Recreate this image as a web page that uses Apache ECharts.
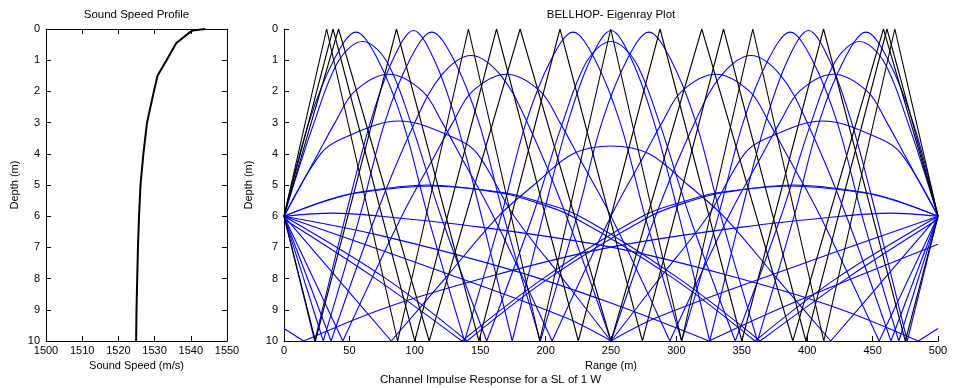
<!DOCTYPE html>
<html><head><meta charset="utf-8">
<script src="https://cdn.jsdelivr.net/npm/echarts/dist/echarts.min.js"></script>
<style>html,body{margin:0;padding:0;background:#fff}#c{width:953px;height:388px}</style>
</head><body><div id="c"></div>
<script>
// ---- Sound speed profile ----
const sspDepth = [0, 0.05, 0.1, 0.45, 1, 1.5, 2, 3, 4, 5, 6, 7, 8, 9, 10];
const sspSpeed = [1544, 1540.5, 1539.8, 1536, 1533.3, 1530.8, 1529.8, 1527.9, 1526.9, 1526.1, 1525.7, 1525.4, 1525.2, 1525.0, 1524.9];

// ---- Eigenrays: [range (m), depth (m)] vertices ----
// surface + bottom bouncing rays (black)
const blackRayA = [[0,6],[32.6,0],[86.9,10],[141,0],[195.5,10],[249.8,0],[304,10],[358.4,0],[412.7,10],[467,0],[500,6]];
const blackRayB = [[0,6],[37.5,0],[100,10],[162.5,0],[225,10],[287.5,0],[350,10],[412.5,0],[475,10],[500,6]];
const blackRayC = [[0,6],[24,10],[86,0],[149,10],[211,0],[274,10],[336,0],[399,10],[461,0],[500,6]];
const blackRayD = [[0,6],[41.7,0],[111,10],[180.5,0],[250,10],[319.4,0],[389,10],[458.3,0],[500,6]];

// refracted / bottom bouncing rays (blue)
const blueRayW1 = [[0,6],[19,3],[38,1],[55,0.1],[72,1],[91,3],[110,6],[138,10],[166,6],[185,3],[204,1],[221,0.1],[238,1],[257,3],[276,6],[304,10],[332,6],[351,3],[370,1],[387,0.1],[404,1],[423,3],[442,6],[470,10],[500,6]];
const blueRayW1m = [[0,6],[30,10],[58,6],[77,3],[96,1],[113,0.1],[130,1],[149,3],[168,6],[196,10],[224,6],[243,3],[262,1],[279,0.1],[296,1],[315,3],[334,6],[362,10],[390,6],[409,3],[428,1],[445,0.1],[462,1],[481,3],[500,6]];
const blueRayW2 = [[0,6],[23.5,10],[47,6],[66,3],[83,1],[99,0.05],[115,1],[132,3],[151,6],[174.5,10],[198,6],[217,3],[234,1],[250,0.05],[266,1],[283,3],[302,6],[325.5,10],[349,6],[368,3],[385,1],[401,0.05],[417,1],[434,3],[453,6],[476.5,10],[500,6]];
const blueRayV = [[0,6],[23,3],[42,1],[60,0.4],[78,1],[97,3],[120,6],[155,10],[190,6],[213,3],[232,1],[250,0.4],[268,1],[287,3],[310,6],[345,10],[380,6],[403,3],[422,1],[440,0.4],[458,1],[477,3],[500,6]];
const blueRayF = [[0,6],[36,10],[70,6],[100,3],[120,1.5],[143,0.85],[166,1.5],[186,3],[216,6],[250,10],[284,6],[314,3],[334,1.5],[357,0.85],[380,1.5],[400,3],[430,6],[464,10],[500,6]];
const blueRayP = [[0,6],[26,4],[39,3],[54,2],[80,1.45],[106,2],[121,3],[134,4],[160,6],[205,10],[250,6],[276,4],[289,3],[304,2],[330,1.45],[356,2],[371,3],[384,4],[410,6],[455,10],[500,6]];
const blueRayPm = [[0,6],[45,10],[90,6],[116,4],[129,3],[144,2],[170,1.45],[196,2],[211,3],[224,4],[250,6],[295,10],[340,6],[366,4],[379,3],[394,2],[420,1.45],[446,2],[461,3],[474,4],[500,6]];
const blueRayQ = [[0,6],[28,4],[45,3.5],[88,2.95],[131,3.5],[148,4],[176,6],[213,8],[250,10],[287,8],[324,6],[352,4],[369,3.5],[412,2.95],[455,3.5],[472,4],[500,6]];
const blueRayR = [[0,6],[41,8],[82,10],[123,8],[164,6],[191,5],[221,4],[250,3.75],[279,4],[309,5],[336,6],[377,8],[418,10],[459,8],[500,6]];
const blueRayS = [[0,6],[32,5.5],[55,5.25],[110,5.0],[165,5.25],[188,5.5],[220,6],[298,8],[360,10],[422,8],[500,6]];
const blueRayS2 = [[0,6],[33,5.5],[57,5.25],[113,5.03],[169,5.25],[192,5.5],[226,6],[302,8],[364,10],[430,8],[500,6.1]];
const blueRaySm = [[0,6],[78,8],[140,10],[202,8],[280,6],[312,5.5],[335,5.25],[390,5.0],[445,5.25],[468,5.5],[500,6]];
const blueRaySm2 = [[0,6.1],[70,8],[136,10],[198,8],[274,6],[308,5.5],[331,5.25],[387,5.03],[443,5.25],[467,5.5],[500,6]];
const blueRayH = [[0,6],[126,7.86],[215,9.25],[250,10],[285,9.25],[374,7.86],[500,6]];
const blueRayG = [[0,6],[37,5.9],[74,6],[150,6.35],[251,7.0],[340,7.9],[420,8.9],[485,10],[500,9.6]];
const blueRayGm = [[500,6],[463,5.9],[426,6],[350,6.35],[249,7.0],[160,7.9],[80,8.9],[15,10],[0,9.6]];
const blueRayK = [[0,6],[75,6.63],[177,7.76],[251,8.8],[325,10],[388,8.8],[500,6.9]];

const blackRays = [blackRayA, blackRayB, blackRayC, blackRayD];
const blueRays = [blueRayW1, blueRayW1m, blueRayW2, blueRayV, blueRayF, blueRayP, blueRayPm, blueRayQ, blueRayR, blueRayS, blueRayS2, blueRaySm, blueRaySm2, blueRayH, blueRayG, blueRayGm, blueRayK];

// ---- axis ticks ----
const speedTicks = [1500, 1550, 10];
const rangeTicks = [0, 500, 50];
const depthTicks = [0, 10, 1];

const FONT = 'Liberation Sans, Arial, Helvetica, sans-serif';
const chart = echarts.init(document.getElementById('c'), null, {renderer: 'canvas'});

function splitAtBottom(pts) {
  const segs = [];
  let cur = [pts[0]];
  for (let i = 1; i < pts.length; i++) {
    cur.push(pts[i]);
    if (pts[i][1] === 10 && i < pts.length - 1) { segs.push(cur); cur = [pts[i]]; }
  }
  segs.push(cur);
  return segs;
}

const series = [];
series.push({
  type: 'line', xAxisIndex: 0, yAxisIndex: 0, showSymbol: false, silent: true,
  data: sspDepth.map((d, i) => [sspSpeed[i], d]),
  lineStyle: {color: '#000', width: 2}
});
blueRays.forEach(r => splitAtBottom(r).forEach(seg => series.push({
  type: 'line', xAxisIndex: 1, yAxisIndex: 1, showSymbol: false, silent: true, smooth: 0.35,
  data: seg, lineStyle: {color: '#0000ff', width: 1.1}
})));
blackRays.forEach(r => series.push({
  type: 'line', xAxisIndex: 1, yAxisIndex: 1, showSymbol: false, silent: true,
  data: r, lineStyle: {color: '#000', width: 1.1}
}));

const lbl = {color: '#000', fontSize: 11, fontFamily: FONT};
const tick = {show: true, inside: true, length: 5, lineStyle: {color: '#000'}};
const line = {show: true, onZero: false, lineStyle: {color: '#000', width: 1}};
const plain = v => String(v);

chart.setOption({
  animation: false,
  backgroundColor: '#fff',
  grid: [
    {left: 46, top: 29, width: 181, height: 312},
    {left: 284, top: 29, width: 654, height: 312}
  ],
  xAxis: [
    {gridIndex: 0, type: 'value', min: speedTicks[0], max: speedTicks[1], interval: speedTicks[2],
     axisLine: line, axisTick: tick, axisLabel: Object.assign({margin: 4, formatter: plain}, lbl), splitLine: {show: false},
     name: 'Sound Speed (m/s)', nameLocation: 'middle', nameGap: 14, nameTextStyle: lbl},
    {gridIndex: 1, type: 'value', min: rangeTicks[0], max: rangeTicks[1], interval: rangeTicks[2],
     axisLine: line, axisTick: tick, axisLabel: Object.assign({margin: 4, formatter: plain}, lbl), splitLine: {show: false},
     name: 'Range (m)', nameLocation: 'middle', nameGap: 18, nameTextStyle: lbl},
    {gridIndex: 0, type: 'value', position: 'top', min: speedTicks[0], max: speedTicks[1], interval: speedTicks[2],
     axisLine: line, axisTick: tick, axisLabel: {show: false}, splitLine: {show: false}}
  ],
  yAxis: [
    {gridIndex: 0, type: 'value', inverse: true, min: depthTicks[0], max: depthTicks[1], interval: depthTicks[2],
     axisLine: line, axisTick: tick, axisLabel: Object.assign({margin: 6, formatter: plain}, lbl), splitLine: {show: false},
     name: 'Depth (m)', nameLocation: 'middle', nameGap: 26, nameRotate: 90, nameTextStyle: lbl},
    {gridIndex: 1, type: 'value', inverse: true, min: depthTicks[0], max: depthTicks[1], interval: depthTicks[2],
     axisLine: line, axisTick: tick, axisLabel: Object.assign({margin: 6, formatter: plain}, lbl), splitLine: {show: false},
     name: 'Depth (m)', nameLocation: 'middle', nameGap: 26, nameRotate: 90, nameTextStyle: lbl},
    {gridIndex: 0, type: 'value', position: 'right', inverse: true, min: depthTicks[0], max: depthTicks[1], interval: depthTicks[2],
     axisLine: line, axisTick: tick, axisLabel: {show: false}, splitLine: {show: false}}
  ],
  graphic: [
    {type: 'text', x: 136.5, y: 15, style: {text: 'Sound Speed Profile', align: 'center', verticalAlign: 'middle', font: '11.5px ' + FONT, fill: '#000'}},
    {type: 'text', x: 611, y: 15, style: {text: 'BELLHOP- Eigenray Plot', align: 'center', verticalAlign: 'middle', font: '11.5px ' + FONT, fill: '#000'}},
    {type: 'text', x: 380, y: 380, style: {text: 'Channel Impulse Response for a SL of 1 W', align: 'left', verticalAlign: 'middle', font: '11.5px ' + FONT, fill: '#000'}}
  ],
  series: series
});
</script></body></html>
